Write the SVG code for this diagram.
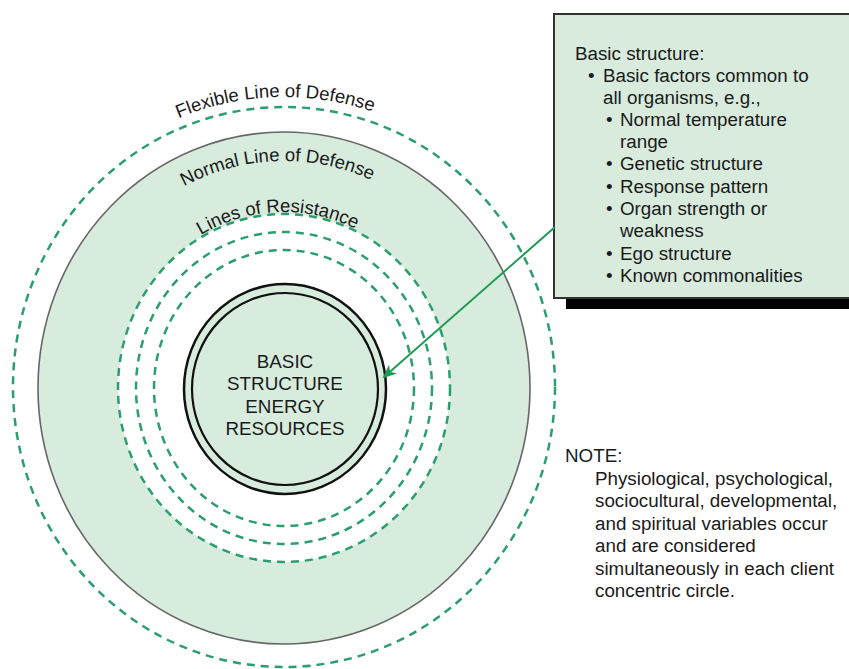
<svg xmlns="http://www.w3.org/2000/svg" width="849" height="669" viewBox="0 0 849 669">
<style>
.dash{fill:none;stroke:#2b9e70;stroke-width:2.5;stroke-dasharray:8 6}
.t{font-family:"Liberation Sans",Arial,sans-serif;font-size:18.8px;fill:#1a1a1a}
.arc{font-family:"Liberation Sans",Arial,sans-serif;font-size:18.5px;fill:#1a1a1a}
</style>
<defs>
<path id="pFlex" d="M 3,387 A 281 290 0 0 1 565,387"/>
<path id="pNorm" d="M 66,388 A 218 227 0 0 1 502,388"/>
<path id="pRes" d="M 116,388 A 168 176 0 0 1 452,388"/>
<marker id="ah" markerWidth="14" markerHeight="12" refX="12" refY="6" orient="auto" markerUnits="userSpaceOnUse">
<path d="M0,0 L14,6 L0,12 L4,6 Z" fill="#1f9a55"/>
</marker>
</defs>
<rect width="849" height="669" fill="#ffffff"/>
<g id="flexible-line">
<ellipse class="dash" cx="284" cy="387" rx="271" ry="280"/>
<text class="arc"><textPath href="#pFlex" startOffset="49%" text-anchor="middle">Flexible Line of Defense</textPath></text>
</g>
<g id="normal-line">
<ellipse cx="284" cy="388" rx="246" ry="256" fill="#d7ecdd" stroke="#666666" stroke-width="1.6"/>
<text class="arc"><textPath href="#pNorm" startOffset="49%" text-anchor="middle">Normal Line of Defense</textPath></text>
</g>
<g id="lines-of-resistance">
<ellipse cx="284" cy="388" rx="166" ry="174" fill="#ffffff"/>
<ellipse class="dash" cx="284" cy="388" rx="166" ry="174"/>
<ellipse class="dash" cx="284" cy="388" rx="148" ry="156"/>
<ellipse class="dash" cx="284" cy="388" rx="130" ry="138"/>
<text class="arc"><textPath href="#pRes" startOffset="48.8%" text-anchor="middle">Lines of Resistance</textPath></text>
</g>
<g id="basic-structure">
<ellipse cx="285" cy="389" rx="101" ry="105" fill="#d7ecdd" stroke="#111111" stroke-width="2.5"/>
<ellipse cx="285" cy="389" rx="93" ry="96" fill="none" stroke="#111111" stroke-width="2.2"/>
<text class="t" text-anchor="middle" x="285" y="368">BASIC</text>
<text class="t" text-anchor="middle" x="285" y="390">STRUCTURE</text>
<text class="t" text-anchor="middle" x="285" y="413">ENERGY</text>
<text class="t" text-anchor="middle" x="285" y="435">RESOURCES</text>
</g>
<g id="info-box">
<rect x="566" y="26" width="300" height="283" fill="#000000"/>
<rect x="554" y="14" width="310" height="284" fill="#d8ebdd" stroke="#333333" stroke-width="2"/>
<text class="t" x="575" y="60">Basic structure:</text>
<text class="t" x="588" y="82">•</text>
<text class="t" x="603" y="82">Basic factors common to</text>
<text class="t" x="603" y="104">all organisms, e.g.,</text>
<text class="t" x="606" y="126">•</text>
<text class="t" x="620" y="126">Normal temperature</text>
<text class="t" x="620" y="148">range</text>
<text class="t" x="606" y="170">•</text>
<text class="t" x="620" y="170">Genetic structure</text>
<text class="t" x="606" y="193">•</text>
<text class="t" x="620" y="193">Response pattern</text>
<text class="t" x="606" y="215">•</text>
<text class="t" x="620" y="215">Organ strength or</text>
<text class="t" x="620" y="237">weakness</text>
<text class="t" x="606" y="260">•</text>
<text class="t" x="620" y="260">Ego structure</text>
<text class="t" x="606" y="282">•</text>
<text class="t" x="620" y="282">Known commonalities</text>
</g>
<g id="note">
<text class="t" x="565" y="462">NOTE:</text>
<text class="t" x="595" y="485">Physiological, psychological,</text>
<text class="t" x="595" y="507">sociocultural, developmental,</text>
<text class="t" x="595" y="530">and spiritual variables occur</text>
<text class="t" x="595" y="552">and are considered</text>
<text class="t" x="595" y="575">simultaneously in each client</text>
<text class="t" x="595" y="597">concentric circle.</text>
</g>
<g id="connectors">
<line x1="555" y1="227" x2="384" y2="377" stroke="#1f9a55" stroke-width="2" marker-end="url(#ah)"/>
</g>
</svg>
